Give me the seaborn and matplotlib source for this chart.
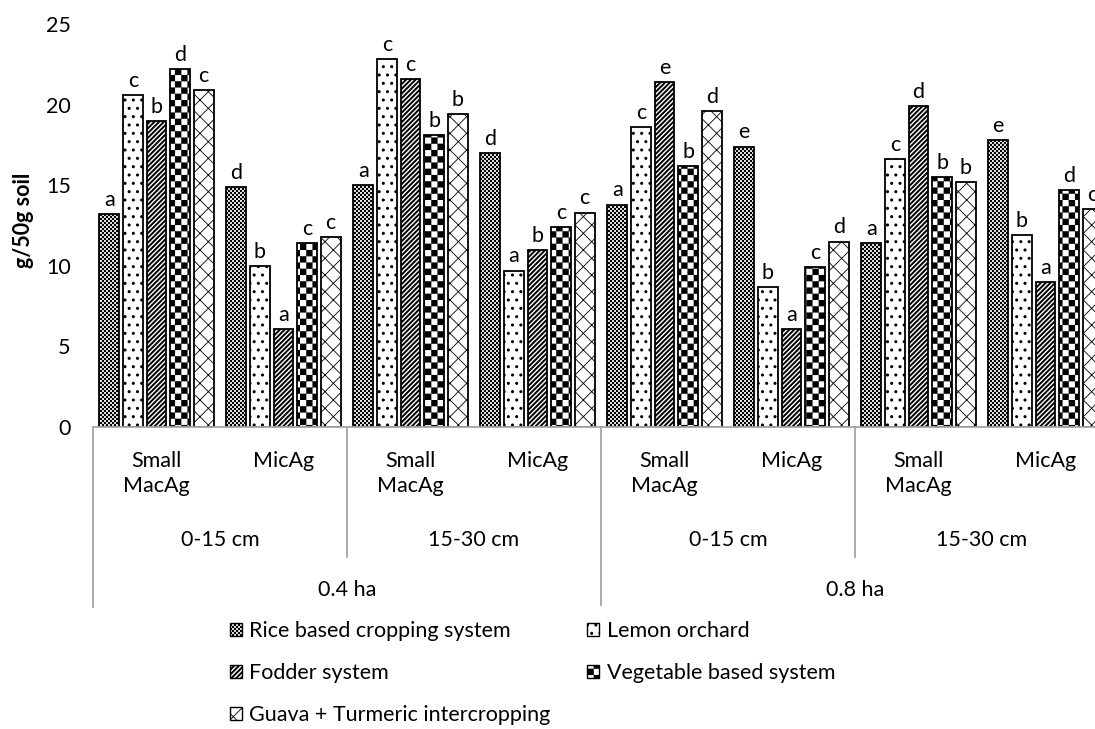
import warnings
import itertools
import numpy as np
import pandas as pd
import matplotlib
matplotlib.use('Agg')
import matplotlib.pyplot as plt
import matplotlib.patches as mpatches
from matplotlib import hatch as mhatch
from matplotlib.path import Path
import seaborn as sns

warnings.filterwarnings('ignore', message='hatch must consist')

## Data
farm_sizes = ['0.4 ha', '0.8 ha']
depths = ['0-15 cm', '15-30 cm']
aggregates = ['Small\nMacAg', 'MicAg']
systems = ['Rice based cropping system', 'Lemon orchard', 'Fodder system',
           'Vegetable based system', 'Guava + Turmeric intercropping']

rice = [13.2, 14.9, 15.0, 17.0, 13.8, 17.4, 11.4, 17.8]
lemon = [20.6, 10.0, 22.8, 9.7, 18.6, 8.7, 16.6, 11.9]
fodder = [19.0, 6.1, 21.6, 11.0, 21.4, 6.1, 19.9, 9.0]
veg = [22.2, 11.4, 18.1, 12.4, 16.2, 9.9, 15.5, 14.7]
guava = [20.9, 11.8, 19.4, 13.3, 19.6, 11.5, 15.2, 13.5]

letters_rice = ['a', 'd', 'a', 'd', 'a', 'e', 'a', 'e']
letters_lemon = ['c', 'b', 'c', 'a', 'c', 'b', 'c', 'b']
letters_fodder = ['b', 'a', 'c', 'b', 'e', 'a', 'd', 'a']
letters_veg = ['d', 'c', 'b', 'c', 'b', 'c', 'b', 'd']
letters_guava = ['c', 'c', 'b', 'c', 'd', 'd', 'b', 'c']


## Checkerboard hatch ('c' repeated -> cells per inch / 2)
class CheckerHatch(mhatch.HatchPatternBase):
    def __init__(self, hatch, density):
        self.num_cells = hatch.count('c') * 2
        self.num_vertices = (self.num_cells ** 2 // 2) * 5

    def set_vertices_and_codes(self, vertices, codes):
        n = self.num_cells
        step = 1.0 / n
        k = 0
        for i in range(n):
            for j in range(n):
                if (i + j) % 2:
                    continue
                x0, y0 = i * step, j * step
                vertices[k:k + 5] = [(x0, y0), (x0 + step, y0), (x0 + step, y0 + step),
                                     (x0, y0 + step), (x0, y0)]
                codes[k:k + 5] = [Path.MOVETO, Path.LINETO, Path.LINETO,
                                  Path.LINETO, Path.CLOSEPOLY]
                k += 5


mhatch._hatch_types.append(CheckerHatch)

hatches = ['c' * 25, '..', '/' * 7, 'c' * 8, 'xx']
hatch_lws = [0.1, 1.0, 1.4, 0.1, 0.6]

## Long table for seaborn
groups = ['|'.join(g) for g in itertools.product(farm_sizes, depths, aggregates)]
values = [rice, lemon, fodder, veg, guava]
df = pd.DataFrame({
    'group': groups * len(systems),
    'system': np.repeat(systems, len(groups)),
    'value': np.concatenate(values),
})

plt.rcParams['font.family'] = 'Lato'
fs = 15.5

fig = plt.figure(figsize=(10.95, 7.29), dpi=100)
ax_h = 403
ax = fig.add_axes([93 / 1095, (729 - 427) / 729, 1016 / 1095, ax_h / 729])

sns.barplot(
    data=df, x='group', y='value', hue='system', order=groups, hue_order=systems,
    palette=['white'] * 5, saturation=1, edgecolor='black', linewidth=1.3,
    width=0.93, gap=0.17, errorbar=None, legend=False, ax=ax
)

all_letters = [letters_rice, letters_lemon, letters_fodder, letters_veg, letters_guava]
for cont, h, hlw, lab in zip(ax.containers, hatches, hatch_lws, all_letters):
    for bar in cont:
        bar.set_hatch(h)
        if hasattr(bar, 'set_hatch_linewidth'):
            bar.set_hatch_linewidth(hlw)
    ax.bar_label(cont, labels=lab, padding=3, fontsize=fs)

ax.set_xlim(-0.5, 7.5)
ax.set_ylim(0, 25)
ax.set_yticks([0, 5, 10, 15, 20, 25])
ax.tick_params(axis='y', length=0, pad=16, labelsize=fs)
ax.tick_params(axis='x', bottom=False, labelbottom=False)
ax.set_xlabel('')
ax.set_ylabel('')
ax.grid(visible=False)
for s in ['top', 'right', 'left']:
    ax.spines[s].set_visible(False)
ax.spines['bottom'].set_color('#a6a6a6')
ax.spines['bottom'].set_linewidth(1.3)

## Multi level category axis
xt = ax.get_xaxis_transform()
for i, g in enumerate(groups):
    ax.text(i, -24 / ax_h, g.split('|')[2], transform=xt, ha='center', va='top',
            fontsize=fs, linespacing=1.3)
for i, g in enumerate(groups[::2]):
    ax.text(2 * i + 0.5, -113 / ax_h, g.split('|')[1], transform=xt,
            ha='center', va='center', fontsize=fs)
for i, g in enumerate(farm_sizes):
    ax.text(4 * i + 1.5, -163 / ax_h, g, transform=xt, ha='center', va='center', fontsize=fs)
for xpos, depth_px in [(-0.5, 180), (1.5, 130), (3.5, 178), (5.5, 130), (7.5, 178)]:
    ax.plot([xpos, xpos], [0, -depth_px / ax_h], transform=xt, color='#a6a6a6',
            lw=1.3, clip_on=False)

fig.text(23 / 1095, 1 - 220 / 729, 'g/50g soil', rotation=90, ha='center', va='center',
         fontweight='bold', fontsize=fs)

## Legend
handles = [mpatches.Patch(facecolor='white', edgecolor='black', hatch=h, label=s, lw=1.0)
           for s, h in zip(systems, hatches)]
order = [0, 2, 4, 1, 3]
leg = fig.legend(
    handles=[handles[i] for i in order], loc='upper left',
    bbox_to_anchor=(230 / 1095, 1 - 621 / 729), ncol=2, frameon=False, fontsize=fs,
    handlelength=0.55, handleheight=0.55, handletextpad=0.35, columnspacing=1.7,
    labelspacing=1.03, borderpad=0, borderaxespad=0
)
for p, i in zip(leg.get_patches(), order):
    if hasattr(p, 'set_hatch_linewidth'):
        p.set_hatch_linewidth(hatch_lws[i])

fig.savefig('out.png', dpi=100, facecolor='white')
